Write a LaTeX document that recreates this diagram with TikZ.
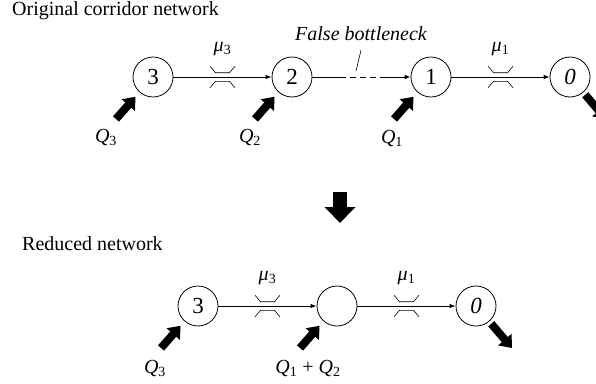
\documentclass[tikz,border=0pt]{standalone}
\usepackage{fontspec}
\setmainfont{Liberation Serif}
\usetikzlibrary{arrows.meta,calc}

\tikzset{
  station/.style={draw, circle, minimum size=40pt, inner sep=0pt, line width=0.8pt,
    font=\fontsize{23}{26}\selectfont},
  link/.style={line width=0.8pt, -{Latex[length=6pt,width=4.5pt]}},
  demand/.style={line width=8pt, -{Triangle[length=11pt,width=17pt]}},
  bigdown/.style={line width=14pt, -{Triangle[length=16pt,width=30pt]}},
  lbl/.style={font=\fontsize{20}{24}\selectfont, inner sep=0pt},
  narrow/.pic={
    \draw[line width=0.6pt] (-12.5,-10.8) -- (-7,-4.3) -- (7,-4.3) -- (12.5,-10.8);
    \draw[line width=0.6pt] (-12.5,10.8) -- (-7,4.3) -- (7,4.3) -- (12.5,10.8);
  }
}

\begin{document}
\begin{tikzpicture}[x=1pt,y=-1pt]
\useasboundingbox (0,0) rectangle (596,383);

% original corridor
\node[lbl, anchor=base west] (title1) at (12,15) {Original corridor network};
\node[station] (t3) at (153,77) {3};
\node[station] (t2) at (292,77) {2};
\node[station] (t1) at (431,77) {1};
\node[station] (t0) at (570,77) {\textit{0}};

\draw[link] (t3) -- (t2) coordinate[midway] (tm3);
\pic at (tm3) {narrow};
\node[lbl] (tmu3) at ($(tm3)+(0,-28)$) {\textit{μ}\textsubscript{3}};

\coordinate (dash1) at (340,77);
\coordinate (dash2) at (382,77);
\draw[line width=0.8pt] (t2) -- (dash1);
\draw[line width=0.8pt, dash pattern=on 6pt off 4pt] (dash1) -- (dash2);
\draw[link] (dash2) -- (t1);
\node[lbl, font=\fontsize{20}{24}\selectfont\itshape] (fb) at (361,34) {False bottleneck};
\coordinate (fbend) at (356,71);
\draw[line width=0.6pt] ($(fb.south)+(0,9)$) -- (fbend);

\draw[link] (t1) -- (t0) coordinate[midway] (tm1);
\pic at (tm1) {narrow};
\node[lbl] (tmu1) at ($(tm1)+(0,-28)$) {\textit{μ}\textsubscript{1}};

\coordinate (t3in) at ($(t3)+(-37,42)$);
\coordinate (t2in) at ($(t2)+(-37,42)$);
\coordinate (t1in) at ($(t1)+(-37,42)$);
\coordinate (t0out) at ($(t0)+(36,42)$);
\draw[demand, shorten >=6pt] (t3in) -- (t3);
\draw[demand, shorten >=6pt] (t2in) -- (t2);
\draw[demand, shorten >=6pt] (t1in) -- (t1);
\draw[demand, shorten <=3pt] (t0) -- (t0out);
\node[lbl] (q3) at (106,137) {\textit{Q}\textsubscript{3}};
\node[lbl] (q2) at (250,137) {\textit{Q}\textsubscript{2}};
\node[lbl] (q1) at (392,138) {\textit{Q}\textsubscript{1}};

% reduction
\coordinate (down0) at (340,192);
\coordinate (down1) at (340,223);
\draw[bigdown] (down0) -- (down1);

% reduced network
\node[lbl, anchor=base west] (title2) at (22,250) {Reduced network};
\node[station] (b3) at (198,306) {3};
\node[station] (bm) at (337,306) {};
\node[station] (b0) at (476,306) {\textit{0}};

\draw[link] (b3) -- (bm) coordinate[midway] (bm3);
\pic at (bm3) {narrow};
\node[lbl] (bmu3) at ($(bm3)+(0,-28)$) {\textit{μ}\textsubscript{3}};
\draw[link] (bm) -- (b0) coordinate[midway] (bm1);
\pic at (bm1) {narrow};
\node[lbl] (bmu1) at ($(bm1)+(0,-28)$) {\textit{μ}\textsubscript{1}};

\coordinate (b3in) at ($(b3)+(-37,42)$);
\coordinate (bmin) at ($(bm)+(-37,42)$);
\coordinate (b0out) at ($(b0)+(36,42)$);
\draw[demand, shorten >=6pt] (b3in) -- (b3);
\draw[demand, shorten >=6pt] (bmin) -- (bm);
\draw[demand, shorten <=3pt] (b0) -- (b0out);
\node[lbl] (bq3) at (155,368) {\textit{Q}\textsubscript{3}};
\node[lbl] (bq12) at (308,368) {\textit{Q}\textsubscript{1} + \textit{Q}\textsubscript{2}};
\end{tikzpicture}
\end{document}
